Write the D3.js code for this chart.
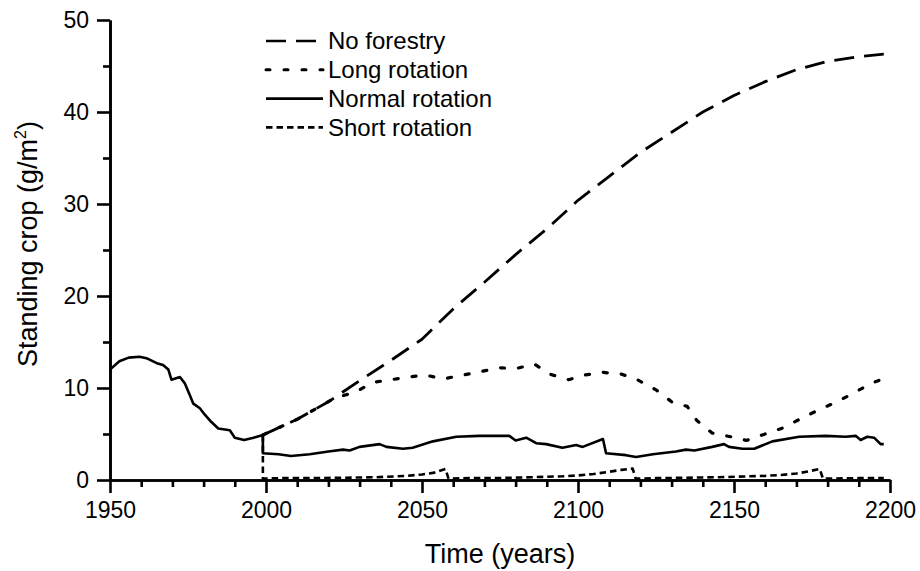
<!DOCTYPE html>
<html>
<head>
<meta charset="utf-8">
<script src="https://cdn.jsdelivr.net/npm/d3@7"></script>
<style>
  html, body { margin: 0; padding: 0; background: #fff; }
  svg { display: block; }
  text { font-family: "Liberation Sans", Arial, Helvetica, sans-serif; fill: #000; }
</style>
</head>
<body>
<svg id="chart" width="920" height="571"></svg>
<script>
// Shared history of the stand, 1950 to the first harvest decision
const historyYears  = [1950, 1953, 1956, 1959.5, 1962, 1965, 1967, 1968.7, 1969.7, 1972.4, 1974, 1975.6, 1976.7, 1978.8, 1980.4, 1982.5, 1984.7, 1988.4, 1990, 1993, 1996, 1999];
const historyValues = [12.0, 12.9, 13.3, 13.4, 13.2, 12.7, 12.5, 12.0, 10.9, 11.2, 10.5, 9.2, 8.3, 7.8, 7.1, 6.3, 5.6, 5.4, 4.6, 4.35, 4.6, 4.9];

// Scenario: no forestry
const noForestryYears  = [1999, 2010, 2020, 2030, 2040, 2050, 2060, 2070, 2080, 2090, 2100, 2110, 2120, 2130, 2140, 2150, 2160, 2170, 2180, 2190, 2198];
const noForestryValues = [4.9, 6.6, 8.5, 10.8, 13.0, 15.3, 18.6, 21.5, 24.5, 27.3, 30.4, 33.0, 35.6, 37.8, 40.0, 41.8, 43.3, 44.6, 45.5, 46.0, 46.3];

// Scenario: long rotation
const longYears  = [1999, 2010, 2022, 2029, 2034, 2040, 2046, 2051, 2057, 2063, 2069, 2075, 2080, 2086, 2091, 2097, 2102, 2108, 2114, 2119, 2125, 2130, 2135, 2138, 2143, 2149, 2154, 2160, 2166, 2171, 2177, 2183, 2188, 2194, 2197];
const longValues = [4.9, 6.6, 8.9, 9.6, 10.6, 10.9, 11.2, 11.4, 11.0, 11.4, 11.8, 12.2, 12.1, 12.6, 11.5, 10.9, 11.4, 11.7, 11.5, 10.9, 9.8, 8.5, 8.0, 6.5, 5.1, 4.7, 4.3, 5.0, 5.7, 6.6, 7.6, 8.5, 9.4, 10.5, 10.9];

// Scenario: normal rotation
const normalYears  = [1999, 1999, 2004, 2008, 2014, 2020, 2024.7, 2026.8, 2030, 2036.4, 2038.6, 2043.9, 2047, 2053.5, 2061, 2068.4, 2078, 2080, 2083.4, 2086.6, 2089.8, 2095, 2099.4, 2101.5, 2108, 2109, 2115.4, 2118.6, 2124, 2131.4, 2134.6, 2137.3, 2143, 2146.8, 2148.4, 2152.7, 2156.5, 2162.3, 2170.9, 2179.4, 2185.8, 2189, 2190.6, 2192.7, 2194.9, 2197, 2198];
const normalValues = [4.9, 2.9, 2.8, 2.6, 2.8, 3.1, 3.3, 3.2, 3.6, 3.9, 3.6, 3.4, 3.5, 4.2, 4.7, 4.8, 4.8, 4.3, 4.6, 4.0, 3.9, 3.5, 3.8, 3.6, 4.45, 2.9, 2.7, 2.5, 2.8, 3.1, 3.3, 3.2, 3.6, 3.9, 3.6, 3.4, 3.4, 4.2, 4.7, 4.8, 4.7, 4.8, 4.35, 4.7, 4.6, 3.9, 3.9];

// Scenario: short rotation
const shortYears  = [1999, 1999, 2005, 2015, 2025, 2035, 2045, 2050, 2054, 2057.5, 2058.5, 2065, 2075, 2085, 2095, 2100, 2105, 2110, 2114, 2117.5, 2118.5, 2125, 2135, 2145, 2155, 2160, 2165, 2170, 2174, 2177.5, 2178.5, 2190, 2198];
const shortValues = [4.9, 0.15, 0.2, 0.2, 0.25, 0.3, 0.45, 0.6, 0.8, 1.2, 0.15, 0.2, 0.22, 0.3, 0.4, 0.5, 0.65, 0.9, 1.1, 1.25, 0.15, 0.2, 0.25, 0.3, 0.4, 0.45, 0.55, 0.7, 0.95, 1.2, 0.15, 0.2, 0.2];

// Axis ticks
const xMajorTicks = [1950, 2000, 2050, 2100, 2150, 2200];
const xMinorTicks = [1960, 1970, 1980, 1990, 2010, 2020, 2030, 2040, 2060, 2070, 2080, 2090, 2110, 2120, 2130, 2140, 2160, 2170, 2180, 2190];
const yMajorTicks = [0, 10, 20, 30, 40, 50];
const yMinorTicks = [5, 15, 25, 35, 45];

const legendLabels = ["No forestry", "Long rotation", "Normal rotation", "Short rotation"];
const legendDashes = ["20,10", "4,14", null, "6.5,4"];

const svg = d3.select("#chart");
const margin = { left: 110, right: 30, top: 20, bottom: 91 };
const W = 920, H = 571;

const x = d3.scaleLinear().domain([1950, 2200]).range([margin.left, W - margin.right]);
const y = d3.scaleLinear().domain([0, 50]).range([H - margin.bottom, margin.top]);

const zip = (xs, vs) => xs.map((yr, i) => [yr, vs[i]]);
const line = d3.line().x(d => x(d[0])).y(d => y(d[1]));

const TICK_FONT = 23;
const LEGEND_FONT = 24;
const TITLE_FONT = 27;

// Axes
function styleAxis(g) {
  g.selectAll("path.domain").attr("stroke", "#000").attr("stroke-width", 2.6);
  g.selectAll(".tick line").attr("stroke", "#000").attr("stroke-width", 2.6);
  g.selectAll(".tick text").attr("font-size", TICK_FONT).attr("font-family", "Liberation Sans, Arial, sans-serif");
}

svg.append("g")
  .attr("transform", `translate(0,${y(0)})`)
  .call(d3.axisBottom(x).tickValues(xMinorTicks).tickSize(7).tickSizeOuter(0).tickFormat(""))
  .call(styleAxis);
svg.append("g")
  .attr("transform", `translate(0,${y(0)})`)
  .call(d3.axisBottom(x).tickValues(xMajorTicks).tickSize(13).tickSizeOuter(0).tickPadding(9).tickFormat(d3.format("d")))
  .call(styleAxis);

svg.append("g")
  .attr("transform", `translate(${x(1950)},0)`)
  .call(d3.axisLeft(y).tickValues(yMinorTicks).tickSize(7).tickSizeOuter(0).tickFormat(""))
  .call(styleAxis);
svg.append("g")
  .attr("transform", `translate(${x(1950)},0)`)
  .call(d3.axisLeft(y).tickValues(yMajorTicks).tickSize(13).tickSizeOuter(0).tickPadding(8).tickFormat(d3.format("d")))
  .call(styleAxis);

// Axis titles
svg.append("text")
  .attr("x", (x(1950) + x(2200)) / 2)
  .attr("y", 563)
  .attr("text-anchor", "middle")
  .attr("font-size", TITLE_FONT)
  .text("Time (years)");

const yTitle = svg.append("text")
  .attr("transform", `translate(37,${(y(0) + y(50)) / 2 - 6}) rotate(-90)`)
  .attr("text-anchor", "middle")
  .attr("font-size", TITLE_FONT);
yTitle.append("tspan").text("Standing crop (g/m");
yTitle.append("tspan").attr("font-size", 16).attr("dy", -11).text("2");
yTitle.append("tspan").attr("dy", 11).text(")");

// Scenario lines
const plot = svg.append("g").attr("fill", "none").attr("stroke", "#000").attr("stroke-linejoin", "round");

plot.append("path")
  .attr("d", line(zip(noForestryYears, noForestryValues)))
  .attr("stroke-width", 2.8).attr("stroke-dasharray", legendDashes[0]);

plot.append("path")
  .attr("d", line(zip(longYears, longValues)))
  .attr("stroke-width", 3.2).attr("stroke-dasharray", legendDashes[1]).attr("stroke-linecap", "round");

plot.append("path")
  .attr("d", line(zip(shortYears, shortValues)))
  .attr("stroke-width", 2.6).attr("stroke-dasharray", legendDashes[3]);

plot.append("path")
  .attr("d", line(zip(historyYears, historyValues).concat(zip(normalYears, normalValues))))
  .attr("stroke-width", 2.6);

// Legend
const legend = svg.append("g");
legendLabels.forEach((label, i) => {
  const ly = 41 + i * 28.8;
  legend.append("line")
    .attr("x1", 266).attr("x2", 323).attr("y1", ly).attr("y2", ly)
    .attr("stroke", "#000")
    .attr("stroke-width", i === 1 ? 3 : 2.6)
    .attr("stroke-dasharray", legendDashes[i])
    .attr("stroke-linecap", i === 1 ? "round" : "butt");
  legend.append("text")
    .attr("x", 328).attr("y", ly).attr("dy", "0.35em")
    .attr("font-size", LEGEND_FONT)
    .text(label);
});
</script>
</body>
</html>
